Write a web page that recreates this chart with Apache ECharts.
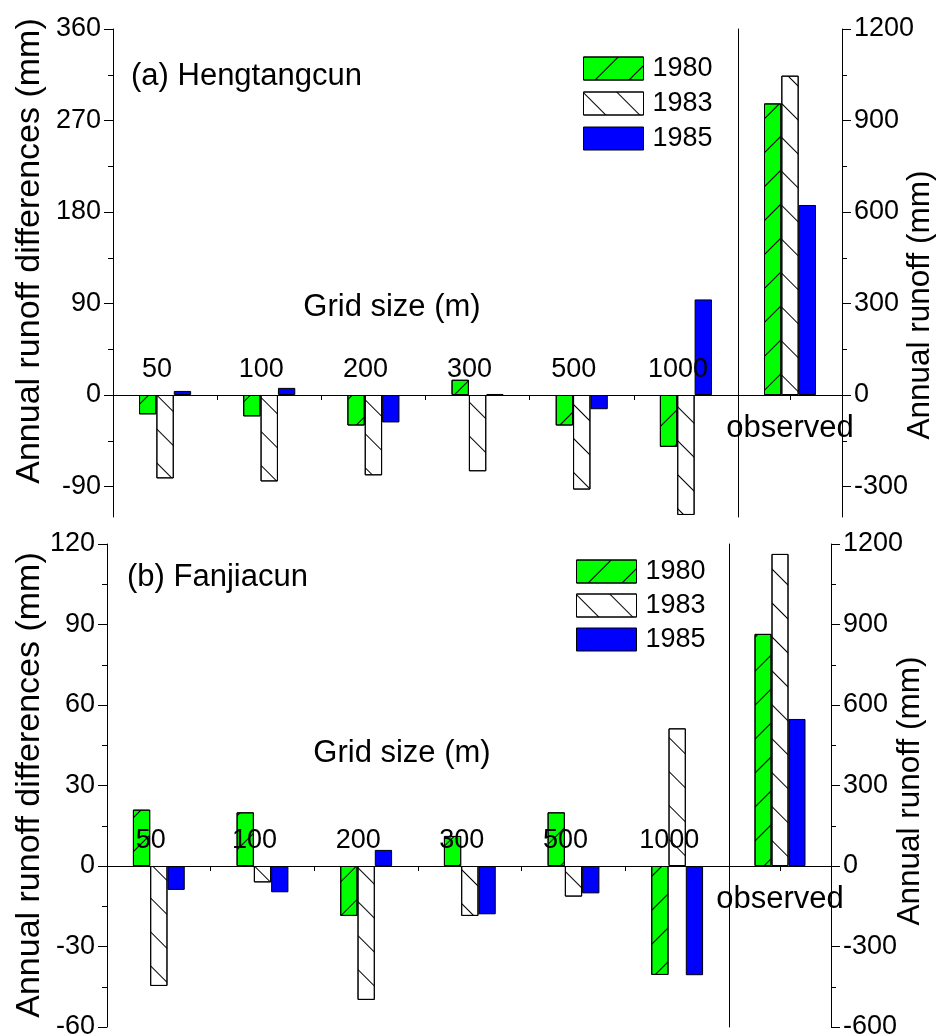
<!DOCTYPE html>
<html>
<head>
<meta charset="utf-8">
<script src="https://cdn.jsdelivr.net/npm/echarts@6/dist/echarts.min.js"></script>
<style>
html,body{margin:0;padding:0;background:#fff;}
#chart{width:937px;height:1035px;}
</style>
</head>
<body>
<div id="chart"></div>
<script>
// ---------- data ----------
const gridSizes = ['50', '100', '200', '300', '500', '1000'];
const observedCategory = ['observed'];
const years = ['1980', '1983', '1985'];

// (a) Hengtangcun: annual runoff differences (mm)
const hengDiff1980 = [-19, -21, -30, 15, -30, -51];
const hengDiff1983 = [-82, -85, -79, -75, -93, -118];
const hengDiff1985 = [4, 7, -27, 1, -14, 94];
// (a) observed annual runoff (mm): 1980, 1983, 1985
const hengObserved = [956, 1047, 623];

// (b) Fanjiacun: annual runoff differences (mm)
const fanDiff1980 = [21, 20, -18.6, 11.2, 20, -40.6];
const fanDiff1983 = [-44.7, -6.1, -49.9, -18.6, -11.4, 51.3];
const fanDiff1985 = [-8.9, -9.8, 6, -18, -10.2, -40.7];
// (b) observed annual runoff (mm): 1980, 1983, 1985
const fanObserved = [865, 1163, 548];

// tick values
const hengLeftTicks = [-90, 0, 90, 180, 270, 360];
const hengLeftMinor = [-45, 45, 135, 225, 315];
const hengRightTicks = [-300, 0, 300, 600, 900, 1200];
const hengRightMinor = [-150, 150, 450, 750, 1050];
const fanLeftTicks = [-60, -30, 0, 30, 60, 90, 120];
const fanLeftMinor = [-45, -15, 15, 45, 75, 105];
const fanRightTicks = [-600, -300, 0, 300, 600, 900, 1200];
const fanRightMinor = [-450, -150, 150, 450, 750, 1050];

// ---------- styles ----------
const FONT = '"Liberation Sans", Arial, sans-serif';
const BLACK = '#000';
const yearColors = ['#00ff00', '#ffffff', '#0000ff'];
const yearDecals = [
  { symbol: 'rect', symbolSize: 1, dashArrayX: [1, 0], dashArrayY: [1, 23], rotation: -Math.PI / 4, color: BLACK },
  { symbol: 'rect', symbolSize: 1, dashArrayX: [1, 0], dashArrayY: [1, 23], rotation: Math.PI / 4, color: BLACK },
  'none'
];

function itemStyleFor(i) {
  const s = { color: yearColors[i], borderColor: BLACK, borderWidth: 1 };
  if (yearDecals[i] !== 'none') s.decal = yearDecals[i];
  return s;
}
const plainNum = v => String(v);

function majorY(gridIndex, position, min, max, ticks) {
  return {
    type: 'value', gridIndex, position, min, max,
    axisLine: { show: true, onZero: false, lineStyle: { color: BLACK, width: 1 } },
    axisTick: { show: true, length: 9, customValues: ticks, lineStyle: { color: BLACK, width: 1 } },
    axisLabel: { show: true, customValues: ticks, formatter: plainNum, margin: 12, fontSize: 27, fontFamily: FONT, color: BLACK },
    splitLine: { show: false }
  };
}
function minorY(gridIndex, position, min, max, ticks) {
  return {
    type: 'value', gridIndex, position, min, max,
    axisLine: { show: false, onZero: false },
    axisTick: { show: true, length: 5, customValues: ticks, lineStyle: { color: BLACK, width: 1 } },
    axisLabel: { show: false },
    splitLine: { show: false }
  };
}
function lineY(gridIndex, min, max) {
  return {
    type: 'value', gridIndex, position: 'left', min, max,
    axisLine: { show: true, onZero: false, lineStyle: { color: BLACK, width: 1 } },
    axisTick: { show: false }, axisLabel: { show: false }, splitLine: { show: false }
  };
}
function gridX(gridIndex) {
  return {
    type: 'category', gridIndex, data: gridSizes, z: 5, position: 'bottom',
    axisLine: { show: true, onZero: false, lineStyle: { color: BLACK, width: 1 } },
    axisTick: { show: true, length: 5, inside: false, lineStyle: { color: BLACK, width: 1 } },
    axisLabel: { show: true, inside: true, interval: 0, margin: 12, padding: [0, 16, 0, 0],
      fontSize: 27, fontFamily: FONT, color: BLACK },
    splitLine: { show: false }
  };
}
function obsX(gridIndex) {
  return {
    type: 'category', gridIndex, data: observedCategory, z: 5, position: 'bottom',
    axisLine: { show: true, onZero: false, lineStyle: { color: BLACK, width: 1 } },
    axisTick: { show: true, length: 5, alignWithLabel: true, lineStyle: { color: BLACK, width: 1 } },
    axisLabel: { show: true, interval: 0, margin: 18, fontSize: 31, fontFamily: FONT, color: BLACK },
    splitLine: { show: false }
  };
}
function barSeries(name, i, xIdx, yIdx, data) {
  return {
    type: 'bar', name, xAxisIndex: xIdx, yAxisIndex: yIdx, data,
    barCategoryGap: '50%', barGap: '0%',
    itemStyle: itemStyleFor(i),
    emphasis: { disabled: true }, animation: false
  };
}
function legendAt(left, top, gap) {
  return {
    orient: 'vertical', left, top, data: years, icon: 'rect', padding: 0,
    itemWidth: 60, itemHeight: 23, itemGap: gap, selectedMode: false,
    itemStyle: { borderColor: BLACK, borderWidth: 1 },
    textStyle: { fontSize: 27, fontFamily: FONT, color: BLACK, lineHeight: 23, padding: [0, 0, 0, 4] }
  };
}
function txt(x, y, text, size, rot, align) {
  return {
    type: 'text', x, y, rotation: rot || 0, z: 20,
    style: { text, font: size + 'px ' + FONT, fill: BLACK,
      textAlign: align || 'left', textVerticalAlign: 'middle' }
  };
}
function gridBox(left, top, width, height) {
  return { left, top, width, height, outerBoundsMode: 'none', containLabel: false };
}

const hengDiff = [hengDiff1980, hengDiff1983, hengDiff1985];
const fanDiff = [fanDiff1980, fanDiff1983, fanDiff1985];

const series = [];
years.forEach((y, i) => series.push(barSeries(y, i, 0, 0, hengDiff[i])));
years.forEach((y, i) => series.push(barSeries(y, i, 1, 2, [hengObserved[i]])));
years.forEach((y, i) => series.push(barSeries(y, i, 2, 5, fanDiff[i])));
years.forEach((y, i) => series.push(barSeries(y, i, 3, 8, [fanObserved[i]])));

const yAxes = [
  majorY(0, 'left', -120, 360, hengLeftTicks),      // 0
  minorY(0, 'left', -120, 360, hengLeftMinor),      // 1
  majorY(1, 'right', -400, 1200, hengRightTicks),   // 2
  minorY(1, 'right', -400, 1200, hengRightMinor),   // 3
  lineY(1, -400, 1200),                             // 4
  majorY(2, 'left', -60, 120, fanLeftTicks),        // 5
  minorY(2, 'left', -60, 120, fanLeftMinor),        // 6
  lineY(3, -600, 1200),                             // 7
  majorY(3, 'right', -600, 1200, fanRightTicks),    // 8
  minorY(3, 'right', -600, 1200, fanRightMinor)     // 9
];

const option = {
  backgroundColor: '#fff',
  animation: false,
  textStyle: { fontFamily: FONT },
  grid: [
    gridBox(113, 29, 625, 488),
    gridBox(738, 29, 104, 488),
    gridBox(107, 544, 622, 483),
    gridBox(729, 544, 102, 483)
  ],
  xAxis: [gridX(0), obsX(1), gridX(2), obsX(3)],
  yAxis: yAxes,
  legend: [legendAt(583, 55, 8), legendAt(576, 558, 7)],
  series,
  graphic: [
    txt(131, 76, '(a) Hengtangcun', 31),
    txt(392, 307, 'Grid size (m)', 31, 0, 'center'),
    txt(127, 577, '(b) Fanjiacun', 31),
    txt(402, 753, 'Grid size (m)', 31, 0, 'center'),
    txt(30, 251, 'Annual runoff differences (mm)', 34, Math.PI / 2, 'center'),
    txt(30, 785, 'Annual runoff differences (mm)', 34, Math.PI / 2, 'center'),
    txt(920, 305, 'Annual runoff (mm)', 31.5, Math.PI / 2, 'center'),
    txt(910, 791, 'Annual runoff (mm)', 31.5, Math.PI / 2, 'center')
  ]
};

const chart = echarts.init(document.getElementById('chart'), null, { renderer: 'canvas' });
chart.setOption(option);

// place each category axis on the zero line of its grid's value axis
const xToY = [0, 2, 5, 8];
const xOffsets = xToY.map(yi => {
  const bottom = chart.convertToPixel({ yAxisIndex: yi }, yAxes[yi].min);
  const zero = chart.convertToPixel({ yAxisIndex: yi }, 0);
  return { offset: zero - bottom };
});
chart.setOption({ xAxis: xOffsets });
</script>
</body>
</html>
